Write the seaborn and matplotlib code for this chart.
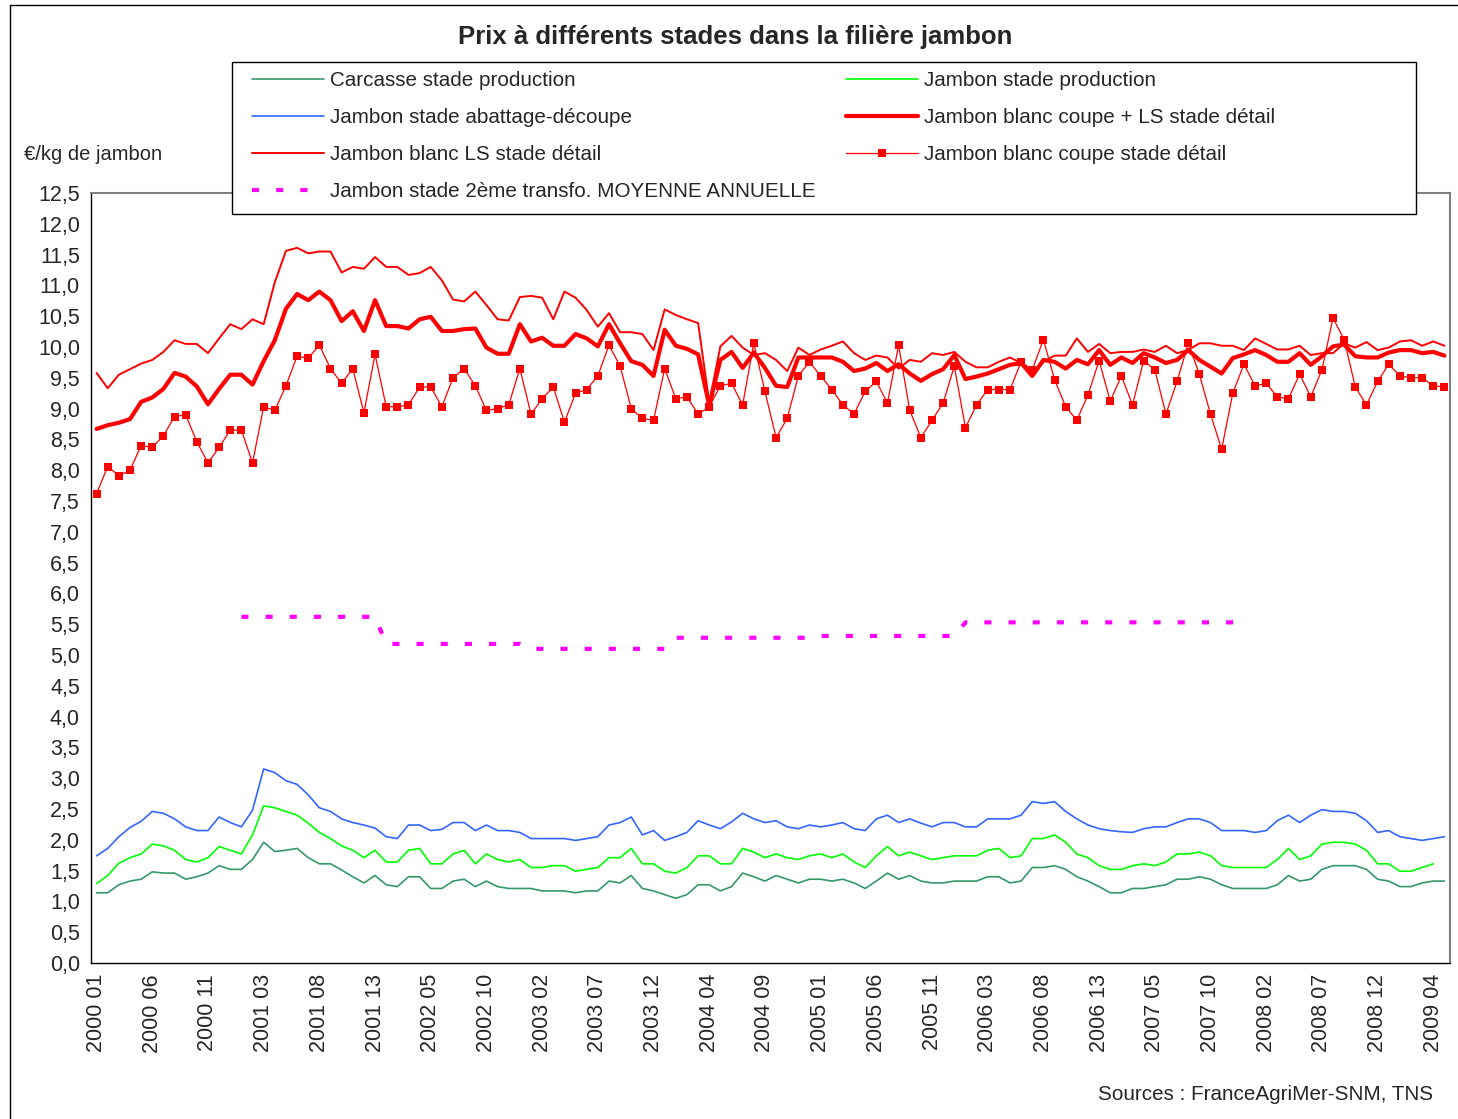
import numpy as np
import pandas as pd
import matplotlib.pyplot as plt
import seaborn as sns
from matplotlib.lines import Line2D

W, H = 1458, 1119
PERIODS_PER_YEAR = 13

tick_labels = [
    "2000 01", "2000 06", "2000 11", "2001 03", "2001 08", "2001 13", "2002 05",
    "2002 10", "2003 02", "2003 07", "2003 12", "2004 04", "2004 09", "2005 01",
    "2005 06", "2005 11", "2006 03", "2006 08", "2006 13", "2007 05", "2007 10",
    "2008 02", "2008 07", "2008 12", "2009 04",
]

# prices in EUR/kg, one value per 4-week period from 2000 01 to 2009 05
carcasse = [
    1.14, 1.14, 1.27, 1.33, 1.36, 1.48, 1.46, 1.46, 1.36, 1.40, 1.46, 1.58, 1.52, 1.52, 1.68, 1.96,
    1.81, 1.83, 1.86, 1.71, 1.61, 1.61, 1.51, 1.40, 1.30, 1.42, 1.27, 1.24, 1.40, 1.40, 1.21, 1.21,
    1.33, 1.36, 1.24, 1.33, 1.24, 1.21, 1.21, 1.21, 1.17, 1.17, 1.17, 1.14, 1.17, 1.17, 1.33, 1.30,
    1.42, 1.21, 1.17, 1.11, 1.05, 1.11, 1.27, 1.27, 1.17, 1.24, 1.46, 1.40, 1.33, 1.42,
    1.36, 1.30, 1.36, 1.36, 1.33, 1.36, 1.30, 1.21, 1.33, 1.46, 1.36, 1.42, 1.33, 1.30, 1.30, 1.33,
    1.33, 1.33, 1.40, 1.40, 1.30, 1.33, 1.55, 1.55, 1.58, 1.52, 1.40, 1.33, 1.24, 1.14, 1.14,
    1.21, 1.21, 1.24, 1.27, 1.36, 1.36, 1.40, 1.36, 1.27, 1.21, 1.21, 1.21, 1.21, 1.27, 1.42, 1.33,
    1.36, 1.52, 1.58, 1.58, 1.58, 1.52, 1.36, 1.33, 1.24, 1.24, 1.30, 1.33, 1.33,
]
jambon_prod = [
    1.29, 1.42, 1.62, 1.71, 1.77, 1.93, 1.90, 1.83, 1.68, 1.64, 1.71, 1.89, 1.83, 1.77, 2.08, 2.55,
    2.52, 2.46, 2.40, 2.27, 2.12, 2.02, 1.90, 1.83, 1.71, 1.83, 1.64, 1.64, 1.83, 1.86, 1.61, 1.61,
    1.77, 1.83, 1.61, 1.77, 1.68, 1.64, 1.68, 1.55, 1.55, 1.58, 1.58, 1.49, 1.52, 1.55, 1.71, 1.71,
    1.86, 1.61, 1.61, 1.49, 1.46, 1.55, 1.74, 1.74, 1.61, 1.61, 1.86, 1.80, 1.71, 1.77,
    1.71, 1.68, 1.74, 1.77, 1.71, 1.77, 1.64, 1.55, 1.74, 1.89, 1.74, 1.80, 1.74, 1.68, 1.71, 1.74,
    1.74, 1.74, 1.83, 1.86, 1.71, 1.74, 2.02, 2.02, 2.08, 1.96, 1.77, 1.71, 1.58, 1.52, 1.52,
    1.58, 1.61, 1.58, 1.64, 1.77, 1.77, 1.80, 1.74, 1.58, 1.55, 1.55, 1.55, 1.55, 1.68, 1.86, 1.68,
    1.74, 1.93, 1.96, 1.96, 1.93, 1.83, 1.61, 1.61, 1.49, 1.49, 1.55, 1.61, np.nan,
]
jambon_abattage = [
    1.74, 1.86, 2.05, 2.20, 2.30, 2.46, 2.43, 2.34, 2.21, 2.15, 2.15, 2.37, 2.28, 2.21, 2.48, 3.15,
    3.09, 2.96, 2.90, 2.73, 2.52, 2.46, 2.34, 2.28, 2.24, 2.19, 2.05, 2.02, 2.24, 2.24, 2.15, 2.17,
    2.28, 2.28, 2.15, 2.24, 2.15, 2.15, 2.12, 2.02, 2.02, 2.02, 2.02, 1.99, 2.02, 2.05, 2.24, 2.28,
    2.37, 2.08, 2.15, 1.99, 2.05, 2.12, 2.31, 2.24, 2.18, 2.29, 2.43, 2.34, 2.28, 2.31,
    2.21, 2.18, 2.24, 2.21, 2.24, 2.28, 2.18, 2.15, 2.34, 2.40, 2.28, 2.34, 2.27, 2.21, 2.28, 2.28,
    2.21, 2.21, 2.34, 2.34, 2.34, 2.40, 2.62, 2.59, 2.62, 2.46, 2.34, 2.24, 2.18, 2.15, 2.13,
    2.12, 2.18, 2.21, 2.21, 2.28, 2.34, 2.34, 2.28, 2.15, 2.15, 2.15, 2.12, 2.15, 2.31, 2.40, 2.28,
    2.40, 2.49, 2.46, 2.46, 2.43, 2.31, 2.12, 2.15, 2.05, 2.02, 1.99, 2.02, 2.05,
]
coupe_ls_detail = [
    8.67, 8.73, 8.77, 8.83, 9.11, 9.18, 9.32, 9.58, 9.52, 9.36, 9.07, 9.32, 9.55, 9.55, 9.39, 9.77,
    10.11, 10.62, 10.86, 10.76, 10.90, 10.76, 10.42, 10.58, 10.26, 10.76, 10.34, 10.34, 10.30, 10.45, 10.49, 10.26,
    10.26, 10.29, 10.30, 9.99, 9.89, 9.89, 10.37, 10.09, 10.15, 10.02, 10.02, 10.21, 10.14, 10.01, 10.37, 10.06,
    9.77, 9.71, 9.53, 10.28, 10.02, 9.97, 9.88, 9.05, 9.79, 9.92, 9.66, 9.91, 9.66, 9.37,
    9.35, 9.83, 9.83, 9.83, 9.83, 9.76, 9.61, 9.65, 9.74, 9.61, 9.72, 9.57, 9.45, 9.56, 9.64, 9.87,
    9.48, 9.52, 9.57, 9.64, 9.71, 9.74, 9.53, 9.79, 9.76, 9.65, 9.79, 9.72, 9.95, 9.71, 9.83,
    9.74, 9.90, 9.83, 9.74, 9.79, 9.95, 9.79, 9.68, 9.57, 9.82, 9.88, 9.95, 9.87, 9.76, 9.76, 9.90,
    9.71, 9.85, 10.01, 10.04, 9.85, 9.83, 9.83, 9.91, 9.95, 9.95, 9.90, 9.92, 9.86,
]
ls_detail = [
    9.58, 9.33, 9.55, 9.64, 9.73, 9.79, 9.92, 10.11, 10.05, 10.05, 9.90, 10.14, 10.37, 10.29, 10.45, 10.37,
    11.05, 11.56, 11.61, 11.52, 11.55, 11.55, 11.21, 11.30, 11.27, 11.46, 11.30, 11.30, 11.17, 11.20, 11.30, 11.08,
    10.77, 10.74, 10.90, 10.68, 10.45, 10.43, 10.81, 10.83, 10.80, 10.45, 10.90, 10.80, 10.60, 10.33, 10.55, 10.24,
    10.24, 10.21, 9.95, 10.61, 10.52, 10.45, 10.39, 9.10, 10.01, 10.18, 9.99, 9.87, 9.90, 9.79,
    9.61, 9.99, 9.87, 9.96, 10.02, 10.09, 9.90, 9.79, 9.86, 9.83, 9.65, 9.79, 9.76, 9.90, 9.87, 9.92,
    9.76, 9.67, 9.67, 9.76, 9.83, 9.74, 9.55, 9.76, 9.86, 9.86, 10.14, 9.92, 10.05, 9.90, 9.92,
    9.92, 9.96, 9.92, 10.02, 9.90, 9.95, 10.06, 10.06, 10.02, 10.02, 9.95, 10.14, 10.05, 9.96, 9.96, 10.02,
    9.87, 9.90, 9.90, 10.06, 9.99, 10.08, 9.95, 9.99, 10.09, 10.11, 10.02, 10.09, 10.02,
]
coupe_detail = [
    7.62, 8.06, 7.91, 8.00, 8.40, 8.37, 8.56, 8.87, 8.90, 8.46, 8.12, 8.37, 8.65, 8.65, 8.12, 9.03,
    8.97, 9.37, 9.85, 9.82, 10.03, 9.65, 9.41, 9.65, 8.93, 9.88, 9.03, 9.03, 9.06, 9.35, 9.35, 9.03,
    9.50, 9.65, 9.37, 8.97, 9.00, 9.06, 9.65, 8.91, 9.16, 9.35, 8.78, 9.25, 9.31, 9.53, 10.03, 9.69,
    9.00, 8.84, 8.81, 9.65, 9.16, 9.19, 8.91, 9.03, 9.37, 9.41, 9.06, 10.06, 9.28, 8.53,
    8.84, 9.53, 9.76, 9.53, 9.31, 9.06, 8.91, 9.28, 9.44, 9.09, 10.03, 8.97, 8.53, 8.81, 9.09, 9.69,
    8.69, 9.06, 9.31, 9.31, 9.31, 9.76, 9.63, 10.12, 9.47, 9.03, 8.81, 9.22, 9.78, 9.12, 9.53,
    9.06, 9.78, 9.63, 8.91, 9.44, 10.06, 9.56, 8.91, 8.34, 9.25, 9.72, 9.37, 9.41, 9.19, 9.16, 9.56,
    9.19, 9.63, 10.47, 10.12, 9.35, 9.06, 9.44, 9.72, 9.53, 9.50, 9.50, 9.37, 9.35,
]

# 2nd transformation stage: one annual average per year
transfo_years = [2001, 2002, 2003, 2004, 2005, 2006, 2007]
transfo_avg = [5.62, 5.18, 5.10, 5.28, 5.31, 5.53, 5.53]

n = len(carcasse)
x = np.arange(n)
period_year = 2000 + x // PERIODS_PER_YEAR
annual = dict(zip(transfo_years, transfo_avg))
transfo = [annual.get(y, np.nan) for y in period_year]

df = pd.DataFrame({
    "x": x,
    "carcasse": carcasse,
    "jambon_prod": jambon_prod,
    "jambon_abattage": jambon_abattage,
    "coupe_ls_detail": coupe_ls_detail,
    "ls_detail": ls_detail,
    "coupe_detail": coupe_detail,
    "transfo": transfo,
})

sns.set_style("white")
plt.rcParams["font.family"] = ["Liberation Sans", "DejaVu Sans"]

fig = plt.figure(figsize=(W / 100, H / 100), dpi=100)
ax = fig.add_axes([91 / W, 1 - 963 / H, (1450 - 91) / W, (963 - 193) / H])

red = "#FF0000"
series = [
    ("carcasse", "Carcasse stade production", dict(color="#339966", linewidth=1.2)),
    ("jambon_abattage", "Jambon stade abattage-découpe", dict(color="#3366FF", linewidth=1.2)),
    ("ls_detail", "Jambon blanc LS stade détail", dict(color=red, linewidth=1.4)),
    ("transfo", "Jambon stade 2ème transfo. MOYENNE ANNUELLE",
     dict(color="#FF00FF", linewidth=3.0, linestyle=(0, (1.7, 4.1)), dash_capstyle="butt")),
    ("jambon_prod", "Jambon stade production", dict(color="#00FF00", linewidth=1.2)),
    ("coupe_ls_detail", "Jambon blanc coupe + LS stade détail", dict(color=red, linewidth=3.0)),
    ("coupe_detail", "Jambon blanc coupe stade détail",
     dict(color=red, linewidth=0.9, marker="s", markersize=5.2, markeredgewidth=0)),
]
for col, label, style in series:
    sns.lineplot(data=df, x="x", y=col, ax=ax, label=label, estimator=None, **style)

ax.set_xlim(-0.5, n - 0.5)
ax.set_ylim(0, 12.5)
ax.set_xlabel("")
ax.set_ylabel("")

ax.set_xticks(np.arange(0, 5 * len(tick_labels), 5))
ax.set_xticklabels(tick_labels, rotation=90, fontsize=15.5)
yt = np.arange(0, 12.51, 0.5)
ax.set_yticks(yt)
ax.set_yticklabels([f"{v:.1f}".replace(".", ",") for v in yt], fontsize=15.5)
ax.tick_params(axis="both", direction="out", length=5, width=1, color="black", pad=3)
ax.tick_params(axis="x", pad=3)

for side in ["left", "bottom"]:
    ax.spines[side].set_color("black")
    ax.spines[side].set_linewidth(1.0)
for side in ["top", "right"]:
    ax.spines[side].set_color("#808080")
    ax.spines[side].set_linewidth(1.5)
ax.grid(False)

handles, labels = ax.get_legend_handles_labels()
ax.get_legend().remove()

# legend frame drawn as a box, two columns placed explicitly
box = plt.Rectangle((232 / W, 1 - 214 / H), (1416 - 232) / W, (214 - 62) / H,
                    transform=fig.transFigure, facecolor="white", edgecolor="black",
                    linewidth=1.0, zorder=5)
fig.add_artist(box)
leg_kw = dict(loc="upper left", frameon=False, fontsize=14.9, handlelength=3.5,
              handletextpad=0.25, labelspacing=0.87, borderpad=0, borderaxespad=0)
leg1 = fig.legend(handles[:4], labels[:4], bbox_to_anchor=(252 / W, 1 - 71 / H), **leg_kw)
leg2 = fig.legend(handles[4:], labels[4:], bbox_to_anchor=(846 / W, 1 - 71 / H), **leg_kw)
for leg in (leg1, leg2):
    leg.set_zorder(6)

fig.text(735 / W, 1 - 37 / H, "Prix à différents stades dans la filière jambon",
         ha="center", va="center", fontsize=18.5, fontweight="bold")
fig.text(24 / W, 1 - 154 / H, "€/kg de jambon", ha="left", va="center", fontsize=14.5)
fig.text(1433 / W, 1 - 1094 / H, "Sources : FranceAgriMer-SNM, TNS",
         ha="right", va="center", fontsize=14.9)

# outer chart frame
fig.add_artist(Line2D([10 / W, 10 / W], [0, 1 - 5 / H], transform=fig.transFigure,
                      color="black", linewidth=1.0))
fig.add_artist(Line2D([10 / W, 1], [1 - 5 / H, 1 - 5 / H], transform=fig.transFigure,
                      color="black", linewidth=1.0))

fig.savefig("out.png", dpi=100)
plt.close(fig)
